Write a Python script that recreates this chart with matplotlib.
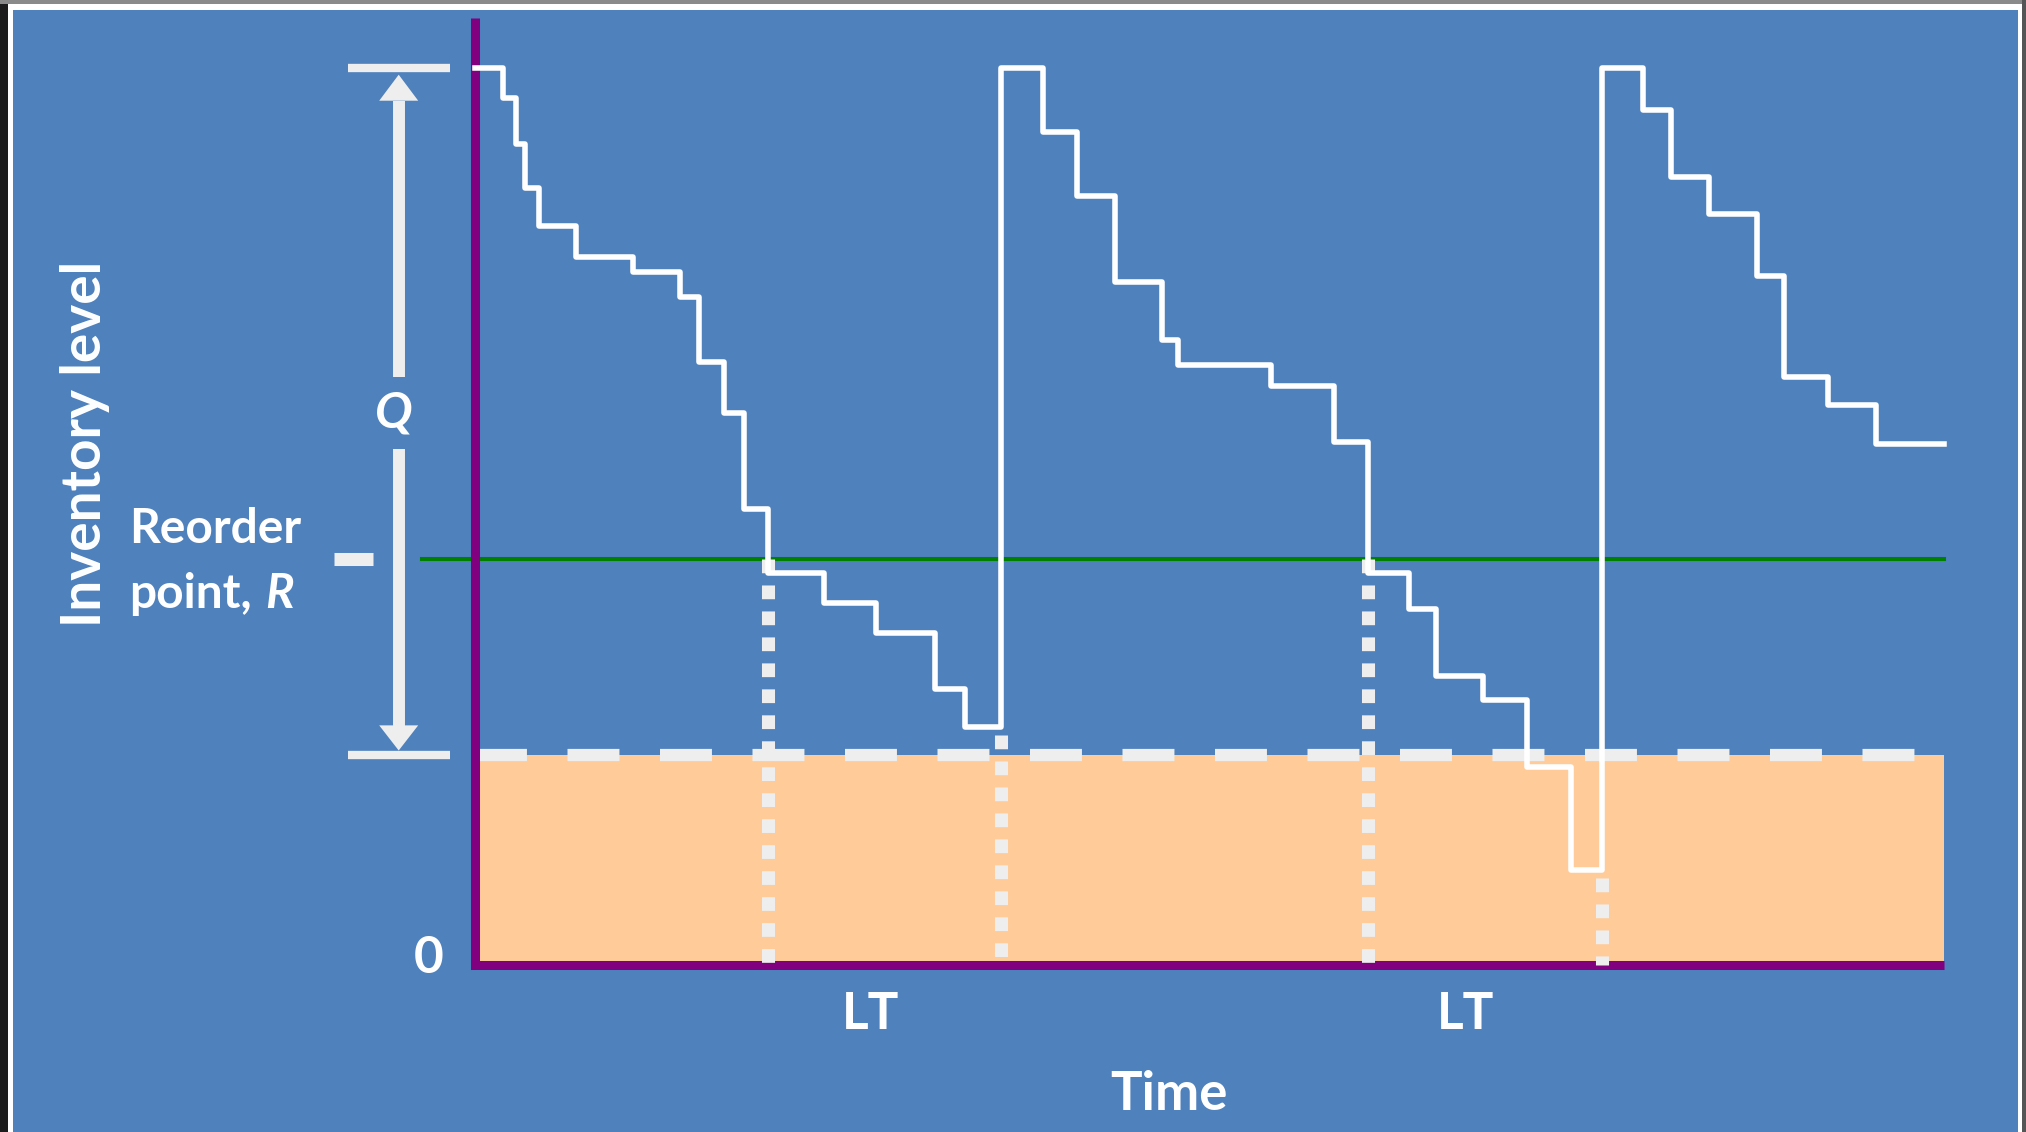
# -*- coding: utf-8 -*-
import matplotlib
matplotlib.use('Agg')
import matplotlib.pyplot as plt
from matplotlib.patches import Rectangle, Polygon

plt.rcParams['font.family'] = ['Lato', 'DejaVu Sans']
plt.rcParams['lines.scale_dashes'] = False

# 画布尺寸(像素)
W, H = 2026, 1132

# 库存水平随时间变化 (时间 0-100, 库存 100 = 最高水平)
change_times = [0, 1.9, 2.8, 3.4, 4.4, 6.9, 10.8, 14.0, 15.3, 17.0,
                18.3, 20.0, 23.8, 27.3, 31.3, 33.4,
                35.8, 38.7, 41.0, 43.6, 46.8, 47.9, 54.2, 58.5,
                60.8, 63.6, 65.4, 68.6, 71.6, 74.6,
                76.7, 79.5, 81.4, 84.0, 87.3, 89.1, 92.1, 95.4, 100]
levels = [100, 96.6, 91.5, 86.6, 82.3, 78.9, 77.2, 74.4, 67.2, 61.5,
          50.8, 43.7, 40.3, 37.0, 30.8, 26.5,
          100, 92.8, 85.7, 76.1, 69.6, 66.9, 64.5, 58.3,
          43.7, 39.7, 32.2, 29.5, 22.1, 10.6,
          100, 95.3, 87.8, 83.7, 76.8, 65.5, 62.4, 58.0, 58.0]

safety_stock = 23.4
reorder_point = 45.2
max_level = 100
reorder_times = [20.0, 60.8]
arrival_times = [35.8, 76.7]
arrival_lows = [26.5, 10.6]
lt_labels = ['LT', 'LT']

# 颜色
BLUE = '#4F81BD'
PURPLE = '#800080'
GREEN = '#008000'
PEACH = '#FFCC99'
LIGHT = '#EEEEEE'

# 绘图区在画布中的位置(像素): 原点与右上角
X0, Y0 = 474.6, 965.0
X1, Y1 = 1944.0, 67.5
PX_T = (X1 - X0) / 100.0
PX_V = (Y0 - Y1) / 100.0


def fx(px):
    return px / W


def fy(py):
    return 1 - py / H


def to_t(px):
    return (px - X0) / PX_T


fig = plt.figure(figsize=(W / 100, H / 100), dpi=100)
fig.patch.set_facecolor('#1c1c1c')

# 边框与背景
fig.patches.append(Rectangle((0, fy(4)), 1, 1, transform=fig.transFigure,
                             facecolor='#8a8a8a', edgecolor='none', zorder=-3))
fig.patches.append(Rectangle((fx(2022), 0), 1, 1, transform=fig.transFigure,
                             facecolor='#555555', edgecolor='none', zorder=-3))
fig.patches.append(Rectangle((fx(8), 0), fx(2014), fy(4), transform=fig.transFigure,
                             facecolor='white', edgecolor='none', zorder=-2))
fig.patches.append(Rectangle((fx(13), 0), fx(2005), fy(10), transform=fig.transFigure,
                             facecolor=BLUE, edgecolor='none', zorder=-1))

ax = fig.add_axes([fx(X0), fy(Y0), (X1 - X0) / W, (Y0 - Y1) / H])
ax.set_zorder(5)
ax.set_xlim(0, 100)
ax.set_ylim(0, 100)
ax.axis('off')
ax.patch.set_visible(False)

# 安全库存区域
ax.fill_between([0, 100], 0, safety_stock, color=PEACH, lw=0, zorder=1)
ax.plot([0, 100], [safety_stock, safety_stock], color=LIGHT, lw=8.8,
        dashes=(37.4, 29.2), solid_capstyle='butt', dash_capstyle='butt', zorder=2)

# 再订货点
ax.plot([to_t(422), 100], [reorder_point, reorder_point], color=GREEN, lw=2.9,
        clip_on=False, zorder=3)

# 坐标轴(紫色)
ax.plot([0, 0, 100], [(Y0 - 18) / PX_V, 0, 0], color=PURPLE, lw=6.5,
        solid_joinstyle='miter', solid_capstyle='butt', clip_on=False, zorder=4)

# 提前期虚线
for t in reorder_times:
    ax.plot([t, t], [reorder_point, 0], color=LIGHT, lw=9.4, dashes=(9.9, 8.8),
            dash_capstyle='butt', clip_on=False, zorder=5)
for t, low in zip(arrival_times, arrival_lows):
    ax.plot([t, t], [low - 0.9, 0], color=LIGHT, lw=9.4, dashes=(9.9, 8.8),
            dash_capstyle='butt', clip_on=False, zorder=5)

# 库存水平
ax.step(change_times, levels, where='post', color='white', lw=4,
        solid_joinstyle='round', clip_on=False, zorder=6)

# Q 箭头
xa = to_t(398.7)
bar = [to_t(348), to_t(450)]
for lv in [max_level, safety_stock]:
    ax.plot(bar, [lv, lv], color=LIGHT, lw=6, solid_capstyle='butt',
            clip_on=False, zorder=5)
ax.plot([xa, xa], [max_level - 3.7, max_level - 34.5], color=LIGHT, lw=8.6,
        solid_capstyle='butt', clip_on=False, zorder=5)
ax.plot([xa, xa], [max_level - 42.5, safety_stock + 3.2], color=LIGHT, lw=8.6,
        solid_capstyle='butt', clip_on=False, zorder=5)
hw = 19.5 / PX_T
ax.add_patch(Polygon([[xa, max_level - 0.8], [xa - hw, max_level - 3.7], [xa + hw, max_level - 3.7]],
                     closed=True, color=LIGHT, lw=0, clip_on=False, zorder=5))
ax.add_patch(Polygon([[xa, safety_stock + 0.5], [xa - hw, safety_stock + 3.3], [xa + hw, safety_stock + 3.3]],
                     closed=True, color=LIGHT, lw=0, clip_on=False, zorder=5))

# 再订货点刻度
ax.plot([to_t(334), to_t(373)], [reorder_point, reorder_point], color=LIGHT, lw=9.4,
        solid_capstyle='butt', clip_on=False, zorder=5)

# 文字
txt = dict(color='white', fontweight='bold')
fig.text(fx(394), fy(428), 'Q', fontsize=36, style='italic', ha='center', va='baseline', **txt)
fig.text(fx(429), fy(973), '0', fontsize=37, ha='center', va='baseline', **txt)
for px, s in zip([870.5, 1466], lt_labels):
    fig.text(fx(px), fy(1029), s, fontsize=37, ha='center', va='baseline', **txt)
fig.text(fx(1169), fy(1110.5), 'Time', fontsize=38, ha='center', va='baseline', **txt)
fig.text(fx(1168), fy(886), 'Safety Stock', fontsize=35, ha='center', va='baseline', **txt)
fig.text(fx(101), fy(444), 'Inventory level', fontsize=39.5, rotation=90,
         rotation_mode='anchor', ha='center', va='baseline', **txt)

fig.text(fx(129), fy(543), 'Reorder', fontsize=34.5, ha='left', va='baseline', **txt)
p = fig.text(fx(129), fy(608), 'point,', fontsize=34.5, ha='left', va='baseline', **txt)
bb = p.get_window_extent(fig.canvas.get_renderer())
fig.text(fx(bb.x1 + 14), fy(608), 'R', fontsize=34.5, style='italic', ha='left',
         va='baseline', **txt)

plt.savefig('out.png', dpi=100, facecolor=fig.get_facecolor())
